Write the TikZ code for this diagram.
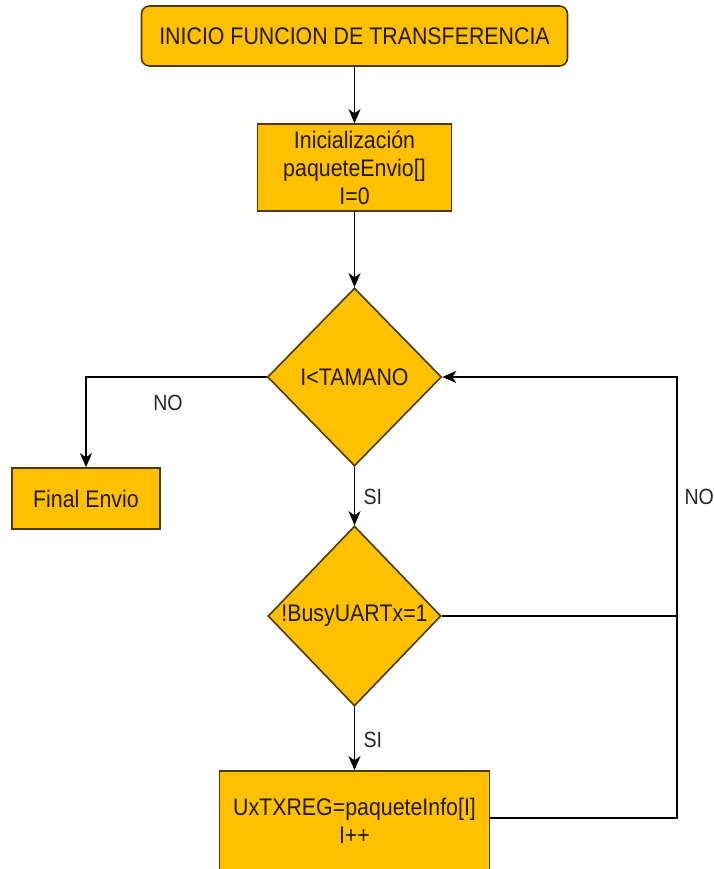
\documentclass[tikz,border=0pt]{standalone}
\usepackage{fontspec}
\setmainfont{Liberation Sans}[FakeStretch=0.89]
\usetikzlibrary{shapes.geometric,arrows.meta}
\definecolor{boxfill}{HTML}{FFC000}
\definecolor{boxline}{HTML}{4A3B00}
\definecolor{boxtext}{HTML}{231A00}
\tikzset{
  x=1bp, y=-1bp,
  every node/.style={font=\fontsize{24bp}{28bp}\selectfont, text=boxtext},
  procbox/.style={draw=boxline, fill=boxfill, line width=1.6bp, inner sep=0pt, align=center},
  startbox/.style={procbox, rounded corners=8bp},
  decision/.style={draw=boxline, fill=boxfill, line width=1.6bp, shape=diamond, inner sep=0pt, aspect=0.98},
  flow/.style={line width=1.6bp, draw=black},
  arr/.style={flow, -{Stealth[length=14bp, width=12bp, inset=4bp]}},
  lbl/.style={font=\fontsize{22bp}{26bp}\selectfont, text=black!85}
}
\begin{document}
\begin{tikzpicture}
  \useasboundingbox (0,0) rectangle (714,869);
  \clip (0,0) rectangle (714,869);

  % process nodes
  \node[startbox, minimum width=426bp, minimum height=60bp] (start) at (354.5,36) {INICIO FUNCION DE TRANSFERENCIA};
  \node[procbox, minimum width=194bp, minimum height=87bp] (init) at (354.5,167.5) {Inicialización\\paqueteEnvio[]\\I=0};
  \node[decision, minimum width=174bp, minimum height=178bp] (cond) at (354.5,377) {I<TAMANO};
  \node[procbox, minimum width=148bp, minimum height=61bp] (fin) at (86,498.5) {Final Envio};
  \node[decision, minimum width=173bp, minimum height=180bp] (busy) at (354.5,616) {!BusyUARTx=1};
  \node[procbox, minimum width=270bp, minimum height=100bp] (send) at (354.5,821) {UxTXREG=paqueteInfo[I]\\I++};

  % return loop corner
  \coordinate (loop) at (677,377);

  % connectors
  \draw[arr] (start.south) -- (init.north);
  \draw[arr] (init.south) -- (cond.north);
  \draw[arr] (cond.west) -| (fin.north);
  \draw[arr] (cond.south) -- (busy.north);
  \draw[arr] (busy.south) -- (send.north);
  \draw[flow] (busy.east) -- (busy.east -| loop);
  \draw[arr] (send.east |- 0,818) -| (loop) -- (cond.east);

  % branch labels
  \node[lbl] (noleft) at (168,403) {NO};
  \node[lbl, anchor=west] (si1) at (360,497) {SI};
  \node[lbl, anchor=west] (si2) at (360,740) {SI};
  \node[lbl, anchor=west] (noright) at (681,497) {NO};
\end{tikzpicture}
\end{document}
